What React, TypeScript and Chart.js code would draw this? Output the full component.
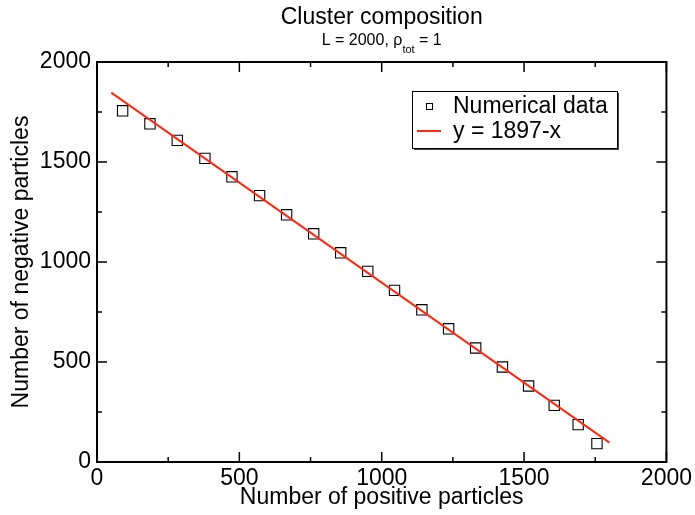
import React, { useEffect, useRef } from 'react';
import { Chart, registerables } from 'chart.js';

Chart.register(...registerables);

// ---- data ----
const positiveCounts = [90, 186, 282, 379, 474, 571, 666, 761, 856, 951, 1045, 1141, 1235, 1330, 1424, 1516, 1606, 1690, 1756];
const negativeCounts = [1756, 1691, 1608, 1518, 1426, 1332, 1236, 1141, 1046, 953, 858, 761, 666, 570, 475, 380, 283, 187, 92];
const fitX = [50, 1800];
const fitY = [1847, 97];
const majorTicks = [0, 500, 1000, 1500, 2000];
const minorTicks = [250, 750, 1250, 1750];
const seriesLabels = ['Numerical data', 'y = 1897-x'];
const titleText = 'Cluster composition';
const subtitleMain = 'L = 2000, ρ';
const subtitleSub = 'tot';
const subtitleEnd = ' = 1';
const xTitle = 'Number of positive particles';
const yTitle = 'Number of negative particles';

const FONT = '"Liberation Sans", Arial, Helvetica, sans-serif';
const RED = 'rgb(252, 42, 18)';

const framePlugin = {
  id: 'frameTicks',
  afterDatasetsDraw(chart: any) {
    const { ctx, chartArea: a, scales } = chart;
    const xs = scales.x;
    const ys = scales.y;
    ctx.save();
    ctx.strokeStyle = '#000';
    ctx.lineWidth = 1.5;
    const tick = (v: number, len: number) => {
      const px = xs.getPixelForValue(v);
      const py = ys.getPixelForValue(v);
      ctx.beginPath();
      ctx.moveTo(px, a.bottom); ctx.lineTo(px, a.bottom - len);
      ctx.moveTo(px, a.top); ctx.lineTo(px, a.top + len);
      ctx.moveTo(a.left, py); ctx.lineTo(a.left + len, py);
      ctx.moveTo(a.right, py); ctx.lineTo(a.right - len, py);
      ctx.stroke();
    };
    majorTicks.forEach((v) => tick(v, 10));
    minorTicks.forEach((v) => tick(v, 5));
    ctx.lineWidth = 2;
    ctx.strokeRect(a.left, a.top, a.right - a.left, a.bottom - a.top);
    ctx.restore();
  },
};

const legendPlugin = {
  id: 'boxLegend',
  afterDraw(chart: any) {
    const { ctx } = chart;
    const ds = chart.data.datasets;
    const x0 = 412, y0 = 91, w = 205, h = 57;
    ctx.save();
    ctx.fillStyle = '#444';
    ctx.fillRect(x0 + 2, y0 + 2, w, h);
    ctx.fillStyle = '#fff';
    ctx.fillRect(x0, y0, w, h);
    ctx.strokeStyle = '#000';
    ctx.lineWidth = 1;
    ctx.strokeRect(x0 + 0.5, y0 + 0.5, w, h);
    // entry 1: square marker
    const scatter = ds[1];
    ctx.strokeStyle = '#000';
    ctx.lineWidth = 1;
    ctx.strokeRect(426.5, 103.5, 6, 6);
    ctx.fillStyle = '#000';
    ctx.font = `23px ${FONT}`;
    ctx.textBaseline = 'middle';
    ctx.textAlign = 'left';
    ctx.fillText(scatter.label, 453, 107);
    // entry 2: line
    const line = ds[0];
    ctx.strokeStyle = RED;
    ctx.lineWidth = 2;
    ctx.beginPath();
    ctx.moveTo(417, 131);
    ctx.lineTo(441, 131);
    ctx.stroke();
    ctx.fillText(line.label, 453, 132);
    ctx.restore();
  },
};

const titlePlugin = {
  id: 'titles',
  afterDraw(chart: any) {
    const { ctx, chartArea: a } = chart;
    const cx = (a.left + a.right) / 2;
    ctx.save();
    ctx.fillStyle = '#000';
    ctx.textBaseline = 'alphabetic';
    ctx.textAlign = 'center';
    ctx.font = `23px ${FONT}`;
    ctx.fillText(titleText, cx, 23.5);
    // subtitle with subscript
    const mainFont = `16px ${FONT}`;
    const subFont = `11px ${FONT}`;
    ctx.font = mainFont;
    const w1 = ctx.measureText(subtitleMain).width;
    const w3 = ctx.measureText(subtitleEnd).width;
    ctx.font = subFont;
    const w2 = ctx.measureText(subtitleSub).width;
    let x = cx - (w1 + w2 + w3) / 2;
    ctx.textAlign = 'left';
    ctx.font = mainFont;
    ctx.fillText(subtitleMain, x, 44.5);
    x += w1;
    ctx.font = subFont;
    ctx.fillText(subtitleSub, x, 53);
    x += w2;
    ctx.font = mainFont;
    ctx.fillText(subtitleEnd, x, 44.5);
    ctx.restore();
  },
};

export default function App() {
  const ref = useRef<HTMLCanvasElement>(null);
  useEffect(() => {
    const points = positiveCounts.map((v, i) => ({ x: v, y: negativeCounts[i] }));
    const fit = fitX.map((v, i) => ({ x: v, y: fitY[i] }));
    const tickFont = { size: 23, family: FONT };
    const chart = new Chart(ref.current!, {
      type: 'scatter',
      data: {
        datasets: [
          {
            label: seriesLabels[1],
            data: fit,
            showLine: true,
            borderColor: RED,
            backgroundColor: RED,
            borderWidth: 2,
            pointRadius: 0,
            pointHoverRadius: 0,
          },
          {
            label: seriesLabels[0],
            data: points,
            pointStyle: 'rect',
            pointRadius: 7.3,
            pointHoverRadius: 7.3,
            borderColor: '#000',
            backgroundColor: 'rgba(0,0,0,0)',
            borderWidth: 1.1,
            showLine: false,
          },
        ],
      },
      options: {
        responsive: false,
        devicePixelRatio: 1,
        animation: false,
        events: [],
        layout: { padding: { top: 62, right: 26, bottom: 0, left: 0 } },
        plugins: {
          legend: { display: false },
          title: { display: false },
          tooltip: { enabled: false },
        },
        scales: {
          x: {
            type: 'linear',
            min: 0,
            max: 2000,
            afterFit: (s: any) => { s.height = 53; },
            grid: { display: false, drawTicks: false },
            border: { display: false },
            ticks: {
              stepSize: 500,
              padding: 3,
              color: '#000',
              font: tickFont,
              maxRotation: 0,
              callback: (v: any) => String(v),
            },
            title: {
              display: true,
              text: xTitle,
              color: '#000',
              font: { size: 23, family: FONT, lineHeight: 1.2 },
              padding: { top: 0, bottom: 4 },
            },
          },
          y: {
            type: 'linear',
            min: 0,
            max: 2000,
            afterFit: (s: any) => { s.width = 97; },
            grid: { display: false, drawTicks: false },
            border: { display: false },
            ticks: {
              stepSize: 500,
              padding: 6,
              color: '#000',
              font: tickFont,
              callback: (v: any) => String(v),
            },
            title: {
              display: true,
              text: yTitle,
              color: '#000',
              font: { size: 23, family: FONT, lineHeight: 1.2 },
              padding: { top: 8, bottom: 0 },
            },
          },
        },
      },
      plugins: [framePlugin, legendPlugin, titlePlugin],
    } as any);
    return () => chart.destroy();
  }, []);
  return (
    <div style={{ position: 'fixed', left: 0, top: 0, width: 695, height: 515, background: '#fff' }}>
      <canvas ref={ref} width={695} height={515} style={{ width: 695, height: 515, display: 'block' }} />
    </div>
  );
}
